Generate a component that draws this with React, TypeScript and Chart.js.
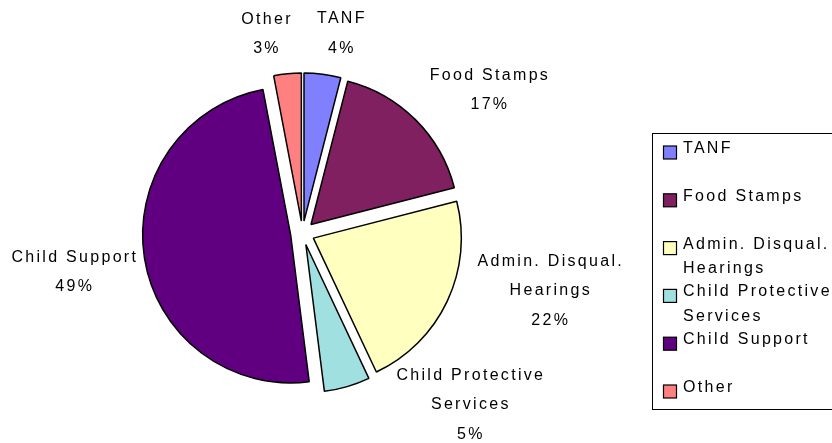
import React, { useEffect, useRef } from 'react';
import { Chart, registerables } from 'chart.js';

Chart.register(...registerables);

// ---- data ----
const categories: string[][] = [
  ['TANF'],
  ['Food Stamps'],
  ['Admin. Disqual.', 'Hearings'],
  ['Child Protective', 'Services'],
  ['Child Support'],
  ['Other'],
];
const shares: number[] = [4, 17, 22, 5, 49, 3];
const sliceColors: string[] = ['#8080FF', '#802060', '#FFFFC0', '#A0E0E0', '#600080', '#FF8080'];

// ---- label layout (relative to each slice: angular shift in degrees, distance beyond rim in px) ----
const labelShiftDeg: number[] = [3.7, 7.5, -12, -28, -0.7, -5];
const labelGapPx: number[] = [55, 87, 106, 92, 84, 54];
const EXPLODE = 12; // px every slice is pulled out along its bisector

const FONT = '16px "Liberation Sans", Arial, sans-serif';
const LETTER_SPACING = '2.3px';

// pull every slice out by a uniform distance (keeps all radii equal)
const explodePlugin = {
  id: 'explodeSlices',
  afterDatasetUpdate(chart: any) {
    const meta = chart.getDatasetMeta(0);
    meta.data.forEach((arc: any) => {
      if (arc.__exploded) return;
      const orig = arc.draw.bind(arc);
      arc.draw = (ctx: CanvasRenderingContext2D, area: any) => {
        const h = (arc.startAngle + arc.endAngle) / 2;
        ctx.save();
        ctx.translate(Math.cos(h) * EXPLODE, Math.sin(h) * EXPLODE);
        orig(ctx, area);
        ctx.restore();
      };
      arc.__exploded = true;
    });
  },
};

const labelsPlugin = {
  id: 'outerLabels',
  afterDatasetsDraw(chart: any) {
    const ctx = chart.ctx as CanvasRenderingContext2D;
    const meta = chart.getDatasetMeta(0);
    const values = chart.data.datasets[0].data as number[];
    const total = values.reduce((a, b) => a + b, 0);
    ctx.save();
    ctx.font = FONT;
    (ctx as any).letterSpacing = LETTER_SPACING;
    ctx.fillStyle = '#000';
    ctx.textAlign = 'center';
    ctx.textBaseline = 'middle';
    const lh = 29.5;
    meta.data.forEach((arc: any, i: number) => {
      const p = arc.getProps(['x', 'y', 'startAngle', 'endAngle', 'outerRadius'], true);
      const mid = (p.startAngle + p.endAngle) / 2 + (labelShiftDeg[i] * Math.PI) / 180;
      const dist = p.outerRadius + labelGapPx[i];
      const cx = p.x + Math.cos(mid) * dist;
      const cy = p.y + Math.sin(mid) * dist;
      const lines = [...categories[i], Math.round((values[i] / total) * 100) + '%'];
      lines.forEach((t, k) => {
        ctx.fillText(t, cx + 1, cy + (k - (lines.length - 1) / 2) * lh);
      });
    });
    ctx.restore();
  },
  afterDraw(chart: any) {
    const ctx = chart.ctx as CanvasRenderingContext2D;
    ctx.save();
    ctx.strokeStyle = '#000';
    ctx.lineWidth = 1;
    ctx.strokeRect(652.5, 133.5, 240, 276);
    ctx.font = FONT;
    (ctx as any).letterSpacing = LETTER_SPACING;
    ctx.textAlign = 'left';
    ctx.textBaseline = 'middle';
    const rowStep = 47.8;
    const wrapStep = 24.5;
    categories.forEach((lines, i) => {
      const y = 148.5 + i * rowStep;
      ctx.fillStyle = sliceColors[i];
      ctx.fillRect(663.5, y - 2.5, 13, 13);
      ctx.lineWidth = 1.2;
      ctx.strokeStyle = '#000';
      ctx.strokeRect(663.5, y - 2.5, 13, 13);
      ctx.fillStyle = '#000';
      lines.forEach((t, k) => ctx.fillText(t, 683, y + k * wrapStep));
    });
    ctx.restore();
  },
};

export default function App() {
  const ref = useRef<HTMLCanvasElement | null>(null);
  useEffect(() => {
    if (!ref.current) return;
    const chart = new Chart(ref.current, {
      type: 'pie',
      data: {
        labels: categories,
        datasets: [
          {
            data: shares,
            backgroundColor: sliceColors,
            borderColor: '#000',
            borderWidth: 1.5,
            hoverBorderWidth: 1.5,
            offset: 0,
            hoverOffset: 0,
          },
        ],
      },
      options: {
        responsive: false,
        animation: false,
        devicePixelRatio: 1,
        events: [],
        layout: { padding: { top: 84.25, bottom: 61.25, left: 142.5, right: 369.5 } },
        plugins: {
          legend: { display: false },
          tooltip: { enabled: false },
          title: { display: false },
        },
      },
      plugins: [explodePlugin, labelsPlugin],
    });
    return () => chart.destroy();
  }, []);
  return (
    <div style={{ position: 'absolute', left: 0, top: 0, width: 832, height: 443, background: '#fff' }}>
      <canvas ref={ref} width={832} height={443} style={{ display: 'block' }} />
    </div>
  );
}
